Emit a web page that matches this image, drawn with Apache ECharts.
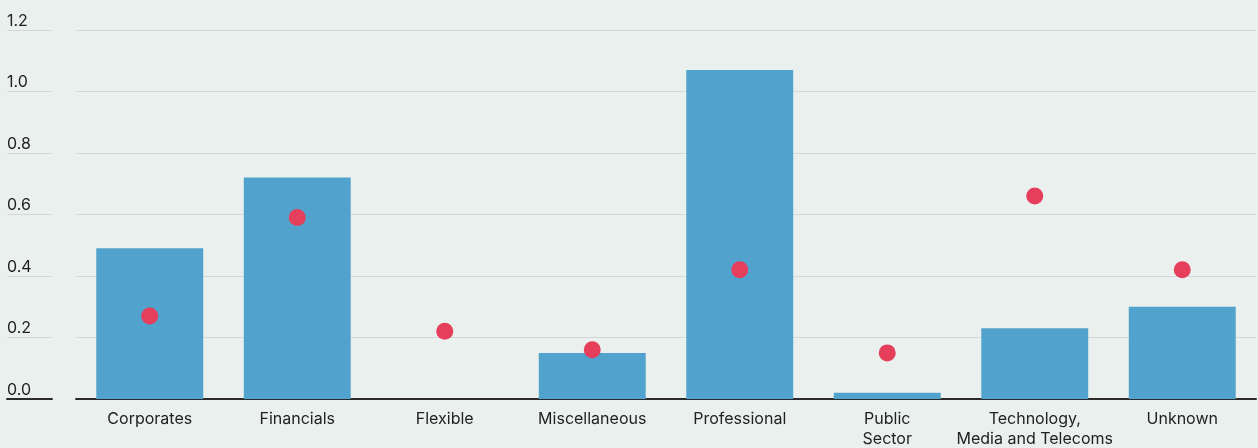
<!DOCTYPE html>
<html><head><meta charset="utf-8">
<script src="https://cdn.jsdelivr.net/npm/echarts@6/dist/echarts.min.js"></script>
<style>html,body{margin:0;padding:0;background:#eaf0ee;}#c{width:1258px;height:448px;}</style>
</head><body><div id="c"></div>
<script>
const categories = ['Corporates','Financials','Flexible','Miscellaneous','Professional','Public\nSector','Technology,\nMedia and Telecoms','Unknown'];
const barValues = [0.49, 0.72, 0, 0.15, 1.07, 0.02, 0.23, 0.30];
const dotValues = [0.27, 0.59, 0.22, 0.16, 0.42, 0.15, 0.66, 0.42];
const yTicks = [0, 0.2, 0.4, 0.6, 0.8, 1.0, 1.2];

const TOP = 30, BOTTOM = 49;
const FONT = 'Inter, Liberation Sans, Arial, sans-serif';
const chart = echarts.init(document.getElementById('c'));
chart.setOption({
  backgroundColor: '#eaf0ee',
  animation: false,
  textStyle: { fontFamily: FONT },
  grid: [
    { left: 76, right: 2, top: TOP, bottom: BOTTOM, outerBoundsMode: 'none', containLabel: false },
    { left: 7, width: 45, top: TOP, bottom: BOTTOM, outerBoundsMode: 'none', containLabel: false }
  ],
  xAxis: [
    { type: 'category', gridIndex: 0, data: categories,
      axisLine: { lineStyle: { color: '#2b2b2b', width: 2 } },
      axisTick: { show: false },
      axisLabel: { color: '#222', fontSize: 16, lineHeight: 20, margin: 10, interval: 0, fontFamily: FONT } },
    { type: 'category', gridIndex: 1, data: [''],
      axisLine: { lineStyle: { color: '#2b2b2b', width: 2 } },
      axisTick: { show: false }, axisLabel: { show: false } }
  ],
  yAxis: [
    { type: 'value', gridIndex: 0, min: 0, max: 1.2, interval: 0.2,
      axisLine: { show: false }, axisTick: { show: false }, axisLabel: { show: false },
      splitLine: { lineStyle: { color: '#d3d9d7', width: 1 } } },
    { type: 'value', gridIndex: 1, min: yTicks[0], max: yTicks[yTicks.length-1], interval: 0.2,
      axisLine: { show: false }, axisTick: { show: false },
      splitLine: { lineStyle: { color: '#d3d9d7', width: 1 } },
      axisLabel: { inside: true, margin: 0, verticalAlign: 'bottom', align: 'left', padding: [0,0,1,0],
        color: '#222', fontSize: 16, fontFamily: FONT,
        formatter: v => v.toFixed(1) } }
  ],
  series: [
    { type: 'bar', xAxisIndex: 0, yAxisIndex: 0, data: barValues, barWidth: '72.5%',
      itemStyle: { color: '#51a3cd' } },
    { type: 'scatter', xAxisIndex: 0, yAxisIndex: 0, data: dotValues, symbolSize: 17,
      itemStyle: { color: '#e63f5c', opacity: 1 } }
  ]
});
</script></body></html>
